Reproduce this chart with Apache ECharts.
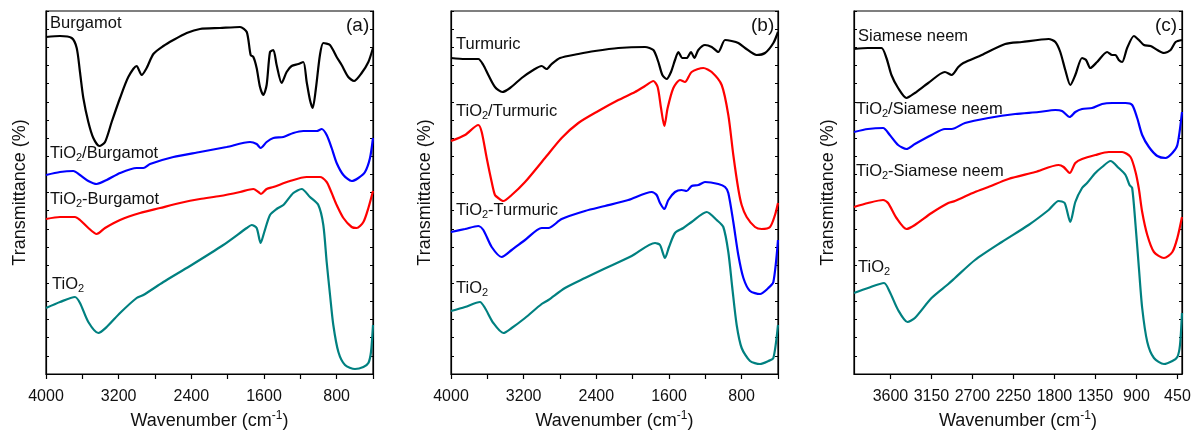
<!DOCTYPE html>
<html>
<head>
<meta charset="utf-8">
<script src="https://cdn.jsdelivr.net/npm/echarts@6.0.0/dist/echarts.min.js"></script>
<style>
html,body{margin:0;padding:0;background:#fff;}
#chart{width:1192px;height:435px;}
</style>
</head>
<body>
<div id="chart"></div>
<script>
// ---- Data: [wavenumber (cm-1), transmittance (a.u., offset stack)] ----
// Panel (a)
const burgamot = [[4000,337],[3846,338],[3717,336],[3662,326],[3626,302],[3589,276],[3534,252],[3479,236],[3413,228],[3350,232],[3277,252],[3185,276],[3094,297],[3002,308],[2947,299],[2892,306],[2818,320],[2708,328],[2598,334],[2451,341],[2305,345],[2084,346],[1864,347],[1790,342],[1747,319],[1717,317],[1681,306],[1644,287],[1607,279],[1571,289],[1534,322],[1497,324],[1461,309],[1406,291],[1351,302],[1296,308],[1222,310],[1167,312],[1130,292],[1094,274],[1064,266],[1028,286],[984,319],[947,331],[874,329],[800,317],[745,309],[672,297],[609,293],[525,301],[451,312],[400,326]];
const tio2SlashBurgamot = [[4000,199],[3846,202],[3699,203],[3626,199],[3534,193],[3442,190],[3332,194],[3185,201],[3002,206],[2928,206],[2855,210],[2598,217],[2305,222],[2011,227],[1754,232],[1681,230],[1637,226],[1571,232],[1497,236],[1387,237],[1277,241],[1167,243],[1020,243],[965,245],[910,239],[855,226],[800,211],[726,199],[635,193],[561,196],[488,202],[433,216],[400,236]];
const tio2DashBurgamot = [[4000,155],[3846,157],[3681,157],[3626,154],[3534,146],[3442,140],[3350,146],[3185,154],[2965,161],[2745,166],[2525,171],[2305,175],[2084,178],[1864,182],[1717,185],[1662,182],[1633,180],[1571,185],[1497,187],[1314,193],[1130,197],[983,197],[910,192],[873,185],[837,177],[800,169],[726,156],[635,147],[580,146],[506,152],[451,166],[400,183]];
const tio2A = [[4000,66],[3846,72],[3681,77],[3626,71],[3534,52],[3424,41],[3332,47],[3185,61],[3002,76],[2928,79],[2708,92],[2415,108],[2048,129],[1790,146],[1736,149],[1681,146],[1637,131],[1600,141],[1534,159],[1461,165],[1387,169],[1277,181],[1185,185],[1094,177],[1002,169],[947,149],[910,112],[873,79],[837,49],[781,22],[708,9],[598,5],[506,7],[451,11],[422,22],[400,49]];
// Panel (b)
const turmuric = [[4000,316],[3846,315],[3699,315],[3644,309],[3589,299],[3516,287],[3435,282],[3350,286],[3222,296],[3094,304],[3002,308],[2947,305],[2892,310],[2800,316],[2598,320],[2415,323],[2158,326],[1864,327],[1772,324],[1717,312],[1673,299],[1626,295],[1578,302],[1534,314],[1497,322],[1453,316],[1406,316],[1358,322],[1321,316],[1277,324],[1204,329],[1130,327],[1057,322],[983,334],[910,333],[837,331],[763,326],[635,319],[543,321],[451,331],[400,342]];
const tio2SlashTurmuric = [[4000,233],[3846,239],[3699,249],[3662,242],[3607,216],[3552,192],[3516,179],[3479,176],[3424,173],[3332,179],[3185,192],[2965,216],[2782,236],[2598,251],[2378,263],[2158,274],[1974,282],[1864,288],[1772,293],[1725,287],[1688,266],[1651,248],[1615,266],[1552,286],[1479,294],[1424,292],[1351,302],[1222,306],[1130,302],[1020,289],[947,259],[892,219],[837,185],[800,169],[745,157],[653,147],[580,145],[488,147],[433,159],[400,171]];
const tio2DashTurmuric = [[4000,142],[3846,145],[3699,148],[3644,144],[3552,127],[3442,117],[3332,124],[3185,134],[3002,146],[2928,146],[2782,155],[2525,163],[2305,168],[2048,174],[1790,182],[1736,179],[1699,171],[1651,165],[1607,174],[1534,182],[1461,184],[1406,183],[1351,188],[1277,189],[1204,192],[1057,190],[983,187],[947,181],[892,152],[837,119],[781,96],[708,83],[598,80],[506,86],[451,92],[400,134]];
const tio2B = [[4000,63],[3846,67],[3681,72],[3626,66],[3534,51],[3424,41],[3332,46],[3185,56],[3002,70],[2928,74],[2745,86],[2525,96],[2341,104],[2011,118],[1754,131],[1699,129],[1644,116],[1600,127],[1534,141],[1442,146],[1351,152],[1185,162],[1075,154],[1002,147],[947,122],[903,86],[855,49],[800,26],[708,13],[598,10],[506,13],[451,16],[400,49]];
// Panel (c)
const siameseNeem = [[4000,325],[3846,326],[3699,326],[3644,316],[3589,299],[3516,286],[3424,276],[3332,281],[3185,291],[3002,302],[2928,299],[2855,307],[2800,311],[2598,319],[2341,330],[2158,332],[1864,335],[1790,332],[1736,322],[1681,304],[1626,289],[1571,299],[1497,316],[1453,314],[1406,306],[1332,312],[1222,322],[1167,319],[1130,319],[1094,314],[1057,312],[1002,326],[928,338],[873,334],[818,329],[745,328],[671,324],[598,321],[525,324],[470,332],[400,334]];
const tio2SlashSiamese = [[4000,242],[3846,245],[3681,246],[3607,239],[3516,229],[3424,225],[3332,230],[3149,239],[3002,245],[2928,245],[2782,251],[2525,256],[2231,260],[1974,262],[1790,264],[1717,263],[1633,257],[1571,262],[1497,265],[1387,266],[1277,270],[1167,271],[1020,271],[947,269],[892,256],[837,239],[763,227],[671,218],[580,216],[506,221],[451,229],[400,262]];
const tio2DashSiamese = [[4000,167],[3846,171],[3681,174],[3626,171],[3534,156],[3424,145],[3332,149],[3149,161],[2965,171],[2892,173],[2672,182],[2525,187],[2305,195],[2011,202],[1754,209],[1699,207],[1633,201],[1571,211],[1497,215],[1351,219],[1204,222],[1057,222],[965,217],[910,202],[873,185],[837,162],[781,139],[708,122],[598,116],[506,122],[451,136],[400,157]];
const tio2C = [[4000,81],[3846,86],[3670,91],[3607,82],[3516,64],[3413,52],[3332,56],[3149,76],[2965,90],[2892,96],[2672,114],[2378,132],[2084,149],[1864,164],[1754,173],[1688,171],[1626,152],[1571,172],[1497,186],[1442,191],[1351,201],[1277,207],[1185,213],[1094,206],[1020,199],[976,189],[947,186],[910,149],[873,106],[837,66],[781,32],[708,16],[598,10],[506,13],[451,17],[422,29],[400,61]];

// Tick labels
const ticksAB = [4000, 3600, 3200, 2800, 2400, 2000, 1600, 1200, 800, 400];
const labelsAB = [4000, 3200, 2400, 1600, 800];
const ticksC = [3600, 3150, 2700, 2250, 1800, 1350, 900, 450];
const labelsC = [3600, 3150, 2700, 2250, 1800, 1350, 900, 450];

const panelTags = ['(a)', '(b)', '(c)'];
const panels = [
  { series: [burgamot, tio2SlashBurgamot, tio2DashBurgamot, tio2A],
    names: ['Burgamot', 'TiO{sub|2}/Burgamot', 'TiO{sub|2}-Burgamot', 'TiO{sub|2}'] },
  { series: [turmuric, tio2SlashTurmuric, tio2DashTurmuric, tio2B],
    names: ['Turmuric', 'TiO{sub|2}/Turmuric', 'TiO{sub|2}-Turmuric', 'TiO{sub|2}'] },
  { series: [siameseNeem, tio2SlashSiamese, tio2DashSiamese, tio2C],
    names: ['Siamese neem', 'TiO{sub|2}/Siamese neem', 'TiO{sub|2}-Siamese neem', 'TiO{sub|2}'] }
];
const seriesColors = [
  ['#000000', '#0000ff', '#ff0000', '#008080'],
  ['#000000', '#ff0000', '#0000ff', '#008080'],
  ['#000000', '#0000ff', '#ff0000', '#008080']
];

// ---- Layout ----
const FONT = 'Liberation Sans, Arial, sans-serif';
const gridLefts = [46, 451, 854];
const gridWidths = [327, 327, 328];
const gridTop = 11, gridHeight = 363;
const Y_MAX = 363;
const labelPos = [
  [[50, 25], [50, 155], [50, 201], [52, 286]],
  [[456, 46], [456, 113], [456, 212], [456, 290]],
  [[858, 38], [856, 111], [856, 173], [858, 269]]
];
const tagPos = [[358, 27], [763, 27], [1167, 27]];

const chart = echarts.init(document.getElementById('chart'), null, {renderer: 'canvas'});

const grids = [], xAxes = [], yAxes = [], series = [], graphics = [];
const black = '#000';
const textColor = '#111';
panels.forEach((p, i) => {
  grids.push({ left: gridLefts[i], top: gridTop, width: gridWidths[i], height: gridHeight,
    containLabel: false, outerBoundsMode: 'none',
    show: true, borderColor: black, borderWidth: 1.2, backgroundColor: 'transparent' });
  const isC = i === 2;
  xAxes.push({
    gridIndex: i, type: 'value', min: 400, max: 4000, inverse: true,
    axisLine: { show: true, onZero: false, lineStyle: { color: black, width: 1.2 } },
    axisTick: { show: true, inside: false, length: 5, lineStyle: { color: black, width: 1.2 },
      customValues: isC ? ticksC : ticksAB },
    axisLabel: { show: true, color: textColor, fontSize: 16, fontFamily: FONT, margin: 15,
      customValues: isC ? labelsC : labelsAB, formatter: v => String(v),
      hideOverlap: false, showMinLabel: true, showMaxLabel: true },
    splitLine: { show: false },
    name: 'Wavenumber (cm{sup|-1})', nameLocation: 'middle', nameGap: 36,
    nameTextStyle: { color: textColor, fontSize: 18, fontFamily: FONT,
      rich: { sup: { fontSize: 12, fontFamily: FONT, color: textColor, verticalAlign: 'top', padding: [0, 0, 10, 0] } } }
  });
  const yBase = {
    gridIndex: i, type: 'value', min: 0, max: Y_MAX, interval: Y_MAX / 20,
    axisLine: { show: true, lineStyle: { color: black, width: 1.2 } },
    axisTick: { show: true, inside: true, length: 3, lineStyle: { color: black, width: 1 } },
    axisLabel: { show: false }, splitLine: { show: false }
  };
  yAxes.push(Object.assign({}, yBase, { position: 'left',
    name: 'Transmittance (%)', nameLocation: 'middle', nameGap: 17, nameRotate: 90,
    nameTextStyle: { color: textColor, fontSize: 18, fontFamily: FONT, padding: [0, 0, 0, 0] } }));
  yAxes.push(Object.assign({}, yBase, { position: 'right' }));
  p.series.forEach((d, k) => {
    series.push({
      type: 'line', xAxisIndex: i, yAxisIndex: 2 * i, data: d,
      showSymbol: false, smooth: 0.25,
      lineStyle: { color: seriesColors[i][k], width: 2.2 },
      itemStyle: { color: seriesColors[i][k] }, z: 2
    });
    graphics.push({
      type: 'text', left: labelPos[i][k][0], top: labelPos[i][k][1] - 10,
      style: { text: p.names[k], fill: textColor, font: '16.5px ' + FONT,
        rich: { sub: { fontSize: 11, fontFamily: FONT, fill: textColor, padding: [9, 0, 0, 0] } } },
      z: 10
    });
  });
  graphics.push({
    type: 'text', left: tagPos[i][0] - 12, top: tagPos[i][1] - 11,
    style: { text: panelTags[i], fill: textColor, font: '19px ' + FONT }, z: 10
  });
});

chart.setOption({
  animation: false,
  backgroundColor: '#fff',
  textStyle: { fontFamily: FONT },
  grid: grids, xAxis: xAxes, yAxis: yAxes, series: series, graphic: graphics
});
</script>
</body>
</html>
